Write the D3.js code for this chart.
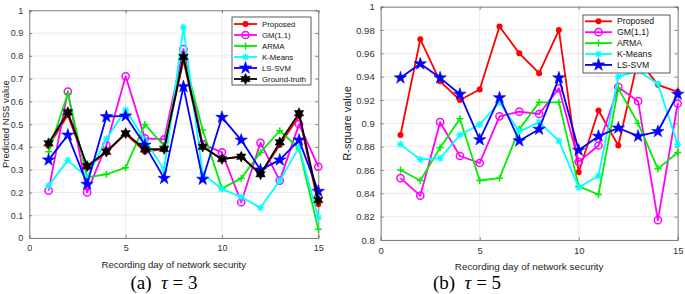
<!DOCTYPE html>
<html>
<head>
<meta charset="utf-8">
<script src="https://cdn.jsdelivr.net/npm/d3@7"></script>
<style>
  body { margin: 0; background: #fff; }
  text { font-family: "Liberation Sans", Arial, sans-serif; }
</style>
</head>
<body>
<svg width="685" height="294"></svg>
<script>
let svg = d3.select("svg");

// recording days 1..15
let days = [1, 2, 3, 4, 5, 6, 7, 8, 9, 10, 11, 12, 13, 14, 15];
let series_names = ["Proposed", "GM(1,1)", "ARMA", "K-Means", "LS-SVM", "Ground-truth"];

// (a) tau = 3, predicted NSS value
let a_proposed = [0.404, 0.540, 0.309, 0.376, 0.457, 0.379, 0.390, 0.780, 0.400, 0.345, 0.358, 0.280, 0.408, 0.535, 0.148];
let a_gm = [0.208, 0.643, 0.200, 0.408, 0.710, 0.438, 0.433, 0.830, 0.412, 0.376, 0.157, 0.418, 0.252, 0.500, 0.313];
let a_arma = [0.379, 0.635, 0.266, 0.280, 0.309, 0.499, 0.404, 0.800, 0.474, 0.218, 0.262, 0.376, 0.471, 0.394, 0.038];
let a_kmeans = [0.230, 0.341, 0.266, 0.435, 0.562, 0.430, 0.300, 0.925, 0.281, 0.215, 0.180, 0.133, 0.252, 0.398, 0.090];
let a_lssvm = [0.343, 0.452, 0.236, 0.533, 0.536, 0.408, 0.262, 0.665, 0.258, 0.530, 0.430, 0.299, 0.343, 0.430, 0.205];
let a_truth = [0.416, 0.552, 0.316, 0.379, 0.460, 0.389, 0.391, 0.795, 0.401, 0.347, 0.357, 0.280, 0.420, 0.548, 0.167];

// (b) tau = 5, R-square value
let b_proposed = [0.890, 0.972, 0.936, 0.920, 0.929, 0.983, 0.960, 0.943, 0.980, 0.858, 0.911, 0.881, 0.955, 0.933, 0.927];
let b_gm = [0.853, 0.838, 0.901, 0.872, 0.866, 0.906, 0.910, 0.908, 0.930, 0.867, 0.881, 0.931, 0.919, 0.817, 0.917];
let b_arma = [0.860, 0.851, 0.879, 0.904, 0.851, 0.853, 0.895, 0.918, 0.918, 0.846, 0.839, 0.930, 0.900, 0.861, 0.875];
let b_kmeans = [0.882, 0.869, 0.870, 0.890, 0.899, 0.918, 0.893, 0.901, 0.885, 0.845, 0.855, 0.940, 0.945, 0.934, 0.882];
let b_lssvm = [0.939, 0.951, 0.939, 0.925, 0.886, 0.922, 0.885, 0.895, 0.939, 0.877, 0.889, 0.896, 0.889, 0.893, 0.925];

let x_ticks = [0, 5, 10, 15];
let a_y_ticks = [0, 0.1, 0.2, 0.3, 0.4, 0.5, 0.6, 0.7, 0.8, 0.9, 1];
let b_y_ticks = [0.8, 0.82, 0.84, 0.86, 0.88, 0.9, 0.92, 0.94, 0.96, 0.98, 1];

let styles = {
  "Proposed": { color: "#ff0000", marker: "dot" },
  "GM(1,1)": { color: "#ff00ff", marker: "ring" },
  "ARMA": { color: "#00ee00", marker: "plus" },
  "K-Means": { color: "#00ffff", marker: "asterisk" },
  "LS-SVM": { color: "#0000ff", marker: "star" },
  "Ground-truth": { color: "#000000", marker: "hexagram" }
};

const hexagram = function(R, r) {
  let pts = d3.range(12).map((i) => {
    let a = -Math.PI / 2 + i * Math.PI / 6;
    let rr = (i % 2 == 0) ? R : r;
    return [rr * Math.cos(a), rr * Math.sin(a)];
  });
  return "M" + pts.map((p) => p.join(",")).join("L") + "Z";
}

const drawMarker = function(g, type, color) {
  if (type == "dot") {
    g.append("circle").attr("r", 3).attr("fill", color);
  } else if (type == "ring") {
    g.append("circle").attr("r", 3.6).attr("fill", "none")
      .attr("stroke", color).attr("stroke-width", 1.5);
  } else if (type == "plus") {
    g.append("path").attr("d", "M-3.5,0H3.5M0,-3.5V3.5")
      .attr("stroke", color).attr("stroke-width", 1.5);
  } else if (type == "asterisk") {
    g.append("path").attr("d", "M-3.5,0H3.5M0,-3.5V3.5M-2.6,-2.6L2.6,2.6M-2.6,2.6L2.6,-2.6")
      .attr("stroke", color).attr("stroke-width", 1.3);
  } else if (type == "star") {
    g.append("path").attr("d", d3.symbol(d3.symbolStar, 48)())
      .attr("fill", color).attr("stroke", color).attr("stroke-width", 0.6);
  } else if (type == "hexagram") {
    g.append("path").attr("d", hexagram(5.5, 3))
      .attr("fill", color).attr("stroke", color).attr("stroke-width", 0.5);
  }
}

const drawPanel = function(cfg) {
  let x = d3.scaleLinear().domain([0, 15]).range([cfg.left, cfg.right]);
  let y = d3.scaleLinear().domain(cfg.y_domain).range([cfg.bottom, cfg.top]);
  let g = svg.append("g");

  // grid
  g.selectAll("line.gy").data(cfg.y_ticks).enter().append("line")
    .attr("x1", cfg.left).attr("x2", cfg.right)
    .attr("y1", (d) => y(d)).attr("y2", (d) => y(d))
    .attr("stroke", "#e6e6e6").attr("stroke-width", 0.8);
  g.selectAll("line.gx").data(x_ticks).enter().append("line")
    .attr("y1", cfg.top).attr("y2", cfg.bottom)
    .attr("x1", (d) => x(d)).attr("x2", (d) => x(d))
    .attr("stroke", "#e6e6e6").attr("stroke-width", 0.8);

  // axes with inward ticks on all four sides
  let fmt = (d) => d3.format("~g")(+d.toFixed(2));
  g.append("g").attr("transform", "translate(0," + cfg.bottom + ")")
    .call(d3.axisBottom(x).tickValues(x_ticks).tickSize(-3).tickPadding(7).tickFormat(fmt));
  g.append("g").attr("transform", "translate(" + cfg.left + ",0)")
    .call(d3.axisLeft(y).tickValues(cfg.y_ticks).tickSize(-3).tickPadding(6).tickFormat(fmt));
  g.append("g").attr("transform", "translate(0," + cfg.top + ")")
    .call(d3.axisTop(x).tickValues(x_ticks).tickSize(-3).tickFormat(""));
  g.append("g").attr("transform", "translate(" + cfg.right + ",0)")
    .call(d3.axisRight(y).tickValues(cfg.y_ticks).tickSize(-3).tickFormat(""));
  g.selectAll(".domain, .tick line").attr("stroke", "#808080");
  g.selectAll(".tick text").attr("fill", "#333").style("font-size", cfg.tick_font + "px")
    .style("font-family", "'Liberation Sans', Arial, sans-serif");

  // series
  let line = d3.line().x((d, i) => x(days[i])).y((d) => y(d));
  cfg.series.forEach((s) => {
    let st = styles[s.name];
    g.append("path").datum(s.values)
      .attr("d", line).attr("fill", "none")
      .attr("stroke", st.color).attr("stroke-width", 1.8)
      .attr("stroke-linejoin", "round");
    g.selectAll(null).data(s.values).enter().append("g")
      .attr("transform", (d, i) => "translate(" + x(days[i]) + "," + y(d) + ")")
      .each(function() { drawMarker(d3.select(this), st.marker, st.color); });
  });

  // labels
  g.append("text").attr("x", (cfg.left + cfg.right) / 2).attr("y", cfg.bottom + 30)
    .attr("text-anchor", "middle").attr("fill", "#222").style("font-size", cfg.label_font + "px")
    .text("Recording day of network security");
  g.append("text")
    .attr("transform", "translate(" + cfg.ylabel_x + "," + ((cfg.top + cfg.bottom) / 2) + ") rotate(-90)")
    .attr("text-anchor", "middle").attr("fill", "#222").style("font-size", cfg.ylabel_font + "px")
    .text(cfg.ylabel);

  // legend
  let lg = cfg.legend;
  g.append("rect").attr("x", lg.x).attr("y", lg.y).attr("width", lg.w).attr("height", lg.h)
    .attr("fill", "#fff").attr("stroke", "#333").attr("stroke-width", 0.8);
  cfg.series.forEach((s, i) => {
    let st = styles[s.name];
    let ey = lg.first + i * lg.step;
    g.append("line").attr("x1", lg.x + 2).attr("x2", lg.x + 2 + lg.line_w)
      .attr("y1", ey).attr("y2", ey)
      .attr("stroke", st.color).attr("stroke-width", 1.8);
    let m = g.append("g").attr("transform", "translate(" + (lg.x + 2 + lg.line_w / 2) + "," + ey + ")");
    drawMarker(m, st.marker, st.color);
    g.append("text").attr("x", lg.x + lg.line_w + 7).attr("y", ey + lg.font * 0.36)
      .attr("fill", "#111").style("font-size", lg.font + "px").text(s.name);
  });

  // caption
  let cap = g.append("text").attr("x", cfg.caption_x).attr("y", 289)
    .attr("text-anchor", "middle").attr("fill", "#000")
    .style("font-family", "'Liberation Serif', 'Times New Roman', serif").style("font-size", "19px");
  cap.append("tspan").text(cfg.caption[0] + "\u2002");
  cap.append("tspan").style("font-style", "italic").text("\u03c4");
  cap.append("tspan").text(" = " + cfg.caption[1]);
}

drawPanel({
  left: 29.3, right: 318.3, top: 10.3, bottom: 238,
  y_domain: [0, 1], y_ticks: a_y_ticks,
  tick_font: 9, label_font: 9.6, ylabel_font: 9.5, ylabel_x: 9,
  ylabel: "Predicted NSS value",
  series: [
    { name: "Proposed", values: a_proposed },
    { name: "GM(1,1)", values: a_gm },
    { name: "ARMA", values: a_arma },
    { name: "K-Means", values: a_kmeans },
    { name: "LS-SVM", values: a_lssvm },
    { name: "Ground-truth", values: a_truth }
  ],
  legend: { x: 232, y: 17, w: 79, h: 68, first: 24, step: 11, line_w: 23, font: 7.8 },
  caption_x: 164, caption: ["(a)", "3"]
});

drawPanel({
  left: 380.7, right: 677.7, top: 6.7, bottom: 240,
  y_domain: [0.8, 1], y_ticks: b_y_ticks,
  tick_font: 9.5, label_font: 9.9, ylabel_font: 11, ylabel_x: 351,
  ylabel: "R-square value",
  series: [
    { name: "Proposed", values: b_proposed },
    { name: "GM(1,1)", values: b_gm },
    { name: "ARMA", values: b_arma },
    { name: "K-Means", values: b_kmeans },
    { name: "LS-SVM", values: b_lssvm }
  ],
  legend: { x: 583, y: 15, w: 87, h: 58, first: 21.3, step: 10.9, line_w: 27, font: 8.7 },
  caption_x: 467, caption: ["(b)", "5"]
});
</script>
</body>
</html>
